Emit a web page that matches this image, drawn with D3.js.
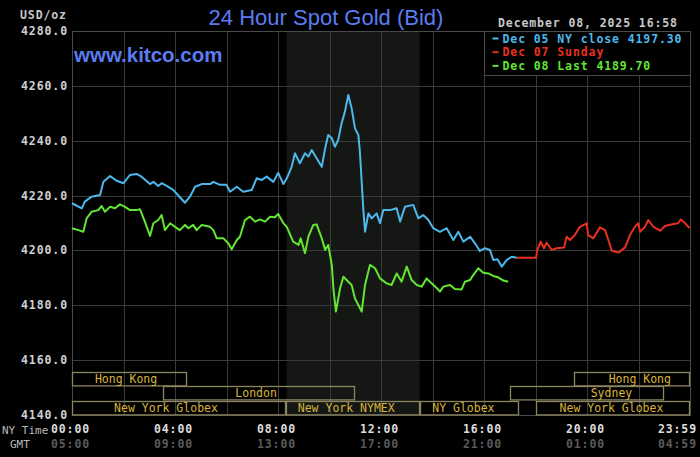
<!DOCTYPE html>
<html>
<head>
<meta charset="utf-8">
<script src="https://cdn.jsdelivr.net/npm/d3@7"></script>
<style>
    body { margin: 0; background: #000; }
    svg { display: block; }
    .mono { font-family: 'DejaVu Sans Mono', monospace; }
</style>
</head>
<body>
<div id="chart"></div>
<script>
// hours since NY midnight, bid price
var DEC05 = [
    [0,4217.2],[0.38,4215.3],[0.5,4217.8],[0.76,4219.6],[1.09,4220.2],[1.22,4225],[1.48,4227.1],
    [1.73,4225.4],[2.0,4224.5],[2.25,4227.5],[2.51,4227.9],[2.7,4226.9],[3.03,4224.2],[3.16,4225],
    [3.35,4223.5],[3.48,4224.5],[3.68,4223.5],[3.94,4222],[4.19,4219.4],[4.39,4217.4],[4.58,4219.6],
    [4.78,4223.2],[5.04,4224.2],[5.36,4224.2],[5.49,4225],[5.75,4223.9],[6.0,4223.9],[6.14,4221.4],
    [6.4,4223.2],[6.65,4221.4],[6.98,4222],[7.17,4226.3],[7.37,4225.7],[7.56,4226.9],[7.82,4225],
    [8.01,4228.3],[8.21,4224.2],[8.34,4226.3],[8.53,4230.5],[8.66,4235.4],[8.85,4231.8],[9.05,4235.4],
    [9.18,4234.2],[9.31,4236.6],[9.5,4233.6],[9.7,4230.5],[9.83,4237.2],[9.95,4242.1],[10.09,4240.9],
    [10.21,4237.8],[10.34,4240.3],[10.47,4246.4],[10.6,4250.6],[10.73,4256.7],[10.86,4251.8],
    [10.99,4244.5],[11.12,4242.1],[11.18,4236],[11.25,4225],[11.31,4215.4],[11.38,4206.8],
    [11.51,4213.5],[11.64,4211.7],[11.83,4213.5],[11.96,4209.9],[12.09,4214.7],[12.35,4214.7],
    [12.61,4215.4],[12.74,4210.5],[12.93,4215.9],[13.25,4216.6],[13.45,4211.7],[13.64,4212.9],
    [13.84,4211.1],[14.03,4208.1],[14.29,4206.8],[14.55,4208.1],[14.81,4203.8],[15.0,4206.8],
    [15.2,4203.2],[15.46,4205],[15.65,4202.6],[15.84,4199.8],[16.04,4200.8],[16.23,4200.2],
    [16.36,4196.5],[16.52,4196.8],[16.69,4194.1],[16.88,4196.5],[17.08,4197.7],[17.27,4197.3]
];

var DEC07 = [
    [17.27,4197.3],[18.02,4197.3],[18.07,4200.2],[18.2,4203.2],[18.33,4200.8],[18.43,4202.8],
    [18.63,4200.2],[18.82,4200.8],[19.11,4201.1],[19.21,4205],[19.34,4203.8],[19.53,4205.6],
    [19.7,4208.4],[19.98,4209.9],[20.05,4205.6],[20.24,4204.4],[20.5,4208.4],[20.7,4207.4],
    [20.83,4203.8],[20.96,4199.9],[21.22,4199.2],[21.48,4201.1],[21.67,4205.6],[21.86,4208.6],
    [21.99,4209.9],[22.06,4206.8],[22.25,4208.6],[22.38,4211.1],[22.58,4208.6],[22.84,4207.2],
    [23.03,4208.9],[23.35,4209.6],[23.54,4209.9],[23.64,4211.3],[23.81,4209.9],[23.98,4208.1]
];

var DEC08 = [
    [0,4208.1],[0.25,4207.4],[0.44,4206.8],[0.57,4211.7],[0.76,4214.1],[1.02,4214.7],[1.15,4216.2],
    [1.28,4214.1],[1.48,4215.9],[1.67,4215.4],[1.86,4216.8],[2.06,4215.9],[2.25,4214.7],[2.51,4214.7],
    [2.64,4215],[2.83,4210.5],[3.03,4205.3],[3.16,4209.9],[3.35,4211.1],[3.48,4212.9],[3.61,4207.4],
    [3.81,4209.9],[4.0,4208.6],[4.19,4207.4],[4.39,4209.3],[4.52,4208.1],[4.71,4209.3],[4.84,4207.4],
    [5.04,4209.3],[5.36,4208.6],[5.49,4207.4],[5.62,4204.4],[5.88,4204.4],[6.07,4202.6],[6.2,4200.4],
    [6.4,4203.8],[6.52,4205],[6.72,4211.1],[6.91,4212.3],[7.11,4210.5],[7.3,4211.3],[7.5,4210.5],
    [7.69,4212.3],[7.88,4212.1],[8.01,4213.3],[8.21,4209.9],[8.34,4208.6],[8.59,4203.2],[8.8,4202],
    [8.88,4204.4],[9.05,4199],[9.18,4205],[9.37,4209.3],[9.5,4209.5],[9.7,4204.4],[9.83,4200.2],
    [9.95,4202],[10.09,4194.7],[10.15,4186.2],[10.25,4177.7],[10.41,4186.2],[10.54,4190.4],
    [10.73,4188.6],[10.86,4187.4],[10.99,4182.5],[11.12,4180.1],[11.25,4177.7],[11.38,4187.4],
    [11.57,4194.7],[11.77,4193.5],[11.96,4189.8],[12.22,4188],[12.41,4187.4],[12.61,4191.6],
    [12.8,4188.6],[13.0,4194.1],[13.19,4189.2],[13.39,4187.4],[13.58,4186.8],[13.77,4189.8],
    [14.17,4186.2],[14.29,4185],[14.42,4186.8],[14.68,4187.4],[14.87,4185.9],[15.13,4185.8],
    [15.26,4188.6],[15.46,4189.2],[15.58,4191],[15.78,4193.5],[15.97,4191.9],[16.17,4191.6],
    [16.36,4190.7],[16.55,4190.2],[16.75,4189],[16.94,4188.6]
];

var SERIES = [
    { label: 'Dec 05 NY close 4197.30', color: '#4db8ec', data: DEC05 },
    { label: 'Dec 07 Sunday', color: '#e8301f', data: DEC07 },
    { label: 'Dec 08 Last 4189.70', color: '#62e632', data: DEC08 }
];

var Y_TICKS = [4140, 4160, 4180, 4200, 4220, 4240, 4260, 4280];
var X_GRID = [0, 2, 4, 6, 8, 10, 12, 14, 16, 18, 20, 22, 24];
var X_LABEL_HOURS = [0, 4, 8, 12, 16, 20, 24];
var NY_LABELS = ['00:00', '04:00', '08:00', '12:00', '16:00', '20:00', '23:59'];
var GMT_LABELS = ['05:00', '09:00', '13:00', '17:00', '21:00', '01:00', '04:59'];

var NYMEX_HOURS = [8 + 1/3, 13.5];

var SESSIONS = [
    { label: 'Hong Kong', row: 0, from: 0, to: 4.48, at: 2.1 },
    { label: 'Hong Kong', row: 0, from: 19.5, to: 24, at: 22.05 },
    { label: 'London', row: 1, from: 3.52, to: 11, at: 7.15 },
    { label: 'Sydney', row: 1, from: 17, to: 23, at: 20.95 },
    { label: 'New York Globex', row: 2, from: 0, to: 8.33, at: 3.65 },
    { label: 'New York NYMEX', row: 2, from: 8.33, to: 13.5, at: 10.65 },
    { label: 'NY Globex', row: 2, from: 13.5, to: 17.35, at: 15.2 },
    { label: 'New York Globex', row: 2, from: 18, to: 24, at: 20.95 }
];

var W = 700,
    H = 457,
    plotL = 72,
    plotR = 690,
    plotT = 31,
    plotB = 415,
    rowH = 14.4;

var x = d3.scaleLinear().domain([0, 24]).range([plotL, plotR]),
    y = d3.scaleLinear().domain([4140, 4280]).range([plotB, plotT]);

var svg = d3.select('#chart')
    .append('svg')
    .attr('width', W)
    .attr('height', H);

function drawBackground(svg) {
    svg.append('rect')
        .attr('width', W)
        .attr('height', H)
        .attr('fill', '#000');

    svg.append('rect')
        .attr('x', x(NYMEX_HOURS[0]))
        .attr('y', plotT)
        .attr('width', x(NYMEX_HOURS[1]) - x(NYMEX_HOURS[0]))
        .attr('height', plotB - plotT)
        .attr('fill', '#141714');
}

function drawGrid(svg) {
    svg.append('g')
        .selectAll('line')
        .data(X_GRID)
        .enter()
        .append('line')
        .attr('x1', function(d) { return Math.round(x(d)) + 0.5; })
        .attr('x2', function(d) { return Math.round(x(d)) + 0.5; })
        .attr('y1', plotT)
        .attr('y2', plotB)
        .attr('stroke', '#3a3a3a');

    svg.append('g')
        .selectAll('line')
        .data(Y_TICKS)
        .enter()
        .append('line')
        .attr('x1', plotL)
        .attr('x2', plotR)
        .attr('y1', function(d) { return Math.round(y(d)) + 0.5; })
        .attr('y2', function(d) { return Math.round(y(d)) + 0.5; })
        .attr('stroke', '#3a3a3a');

    svg.append('rect')
        .attr('x', plotL + 0.5)
        .attr('y', plotT + 0.5)
        .attr('width', plotR - plotL)
        .attr('height', plotB - plotT)
        .attr('fill', 'none')
        .attr('stroke', '#4a4a4a');
}

function drawSessions(svg) {
    var s = svg.selectAll('g.session')
        .data(SESSIONS)
        .enter()
        .append('g')
        .attr('class', 'session');

    s.append('rect')
        .attr('x', function(d) { return Math.round(x(d.from)) + 0.5; })
        .attr('y', function(d) { return Math.round(plotB - (3 - d.row) * rowH) + 0.5; })
        .attr('width', function(d) { return Math.round(x(d.to)) - Math.round(x(d.from)) - 1; })
        .attr('height', rowH - 1)
        .attr('fill', 'none')
        .attr('stroke', '#8c8660')
        .attr('stroke-width', 1.3);

    s.append('text')
        .attr('class', 'mono')
        .attr('x', function(d) { return x(d.at); })
        .attr('y', function(d) { return plotB - (2 - d.row) * rowH - 3.5; })
        .attr('text-anchor', 'middle')
        .attr('font-size', '11.5px')
        .attr('fill', '#d9b43a')
        .text(function(d) { return d.label; });
}

function drawSeries(svg) {
    var line = d3.line()
        .x(function(d) { return x(d[0]); })
        .y(function(d) { return y(d[1]); });

    svg.selectAll('path.series')
        .data(SERIES)
        .enter()
        .append('path')
        .attr('class', 'series')
        .attr('d', function(d) { return line(d.data); })
        .attr('fill', 'none')
        .attr('stroke', function(d) { return d.color; })
        .attr('stroke-width', 2)
        .attr('stroke-linejoin', 'round');
}

function drawLegend(svg) {
    var lx = Math.round(x(16)) + 0.5;

    svg.append('rect')
        .attr('x', lx)
        .attr('y', plotT + 0.5)
        .attr('width', plotR - lx + 0.5)
        .attr('height', 44)
        .attr('fill', '#000')
        .attr('stroke', '#4a4a4a');

    var items = svg.selectAll('g.legend')
        .data(SERIES)
        .enter()
        .append('g')
        .attr('class', 'legend');

    items.append('line')
        .attr('x1', lx + 8)
        .attr('x2', lx + 14)
        .attr('y1', function(d, i) { return plotT + 7.5 + i * 13.7; })
        .attr('y2', function(d, i) { return plotT + 7.5 + i * 13.7; })
        .attr('stroke', function(d) { return d.color; })
        .attr('stroke-width', 2);

    items.append('text')
        .attr('class', 'mono')
        .attr('x', lx + 18)
        .attr('y', function(d, i) { return plotT + 11.5 + i * 13.7; })
        .attr('font-size', '11.5px')
        .attr('font-weight', 'bold')
        .attr('letter-spacing', '0.9px')
        .attr('fill', function(d) { return d.color; })
        .text(function(d) { return d.label; });
}

function drawLabels(svg) {
    svg.append('text')
        .attr('x', 326)
        .attr('y', 25)
        .attr('text-anchor', 'middle')
        .attr('font-family', 'Liberation Sans, Arial, sans-serif')
        .attr('font-size', '22px')
        .attr('fill', '#5b7cf0')
        .text('24 Hour Spot Gold (Bid)');

    svg.append('text')
        .attr('x', 74)
        .attr('y', 62)
        .attr('font-family', 'Liberation Sans, Arial, sans-serif')
        .attr('font-size', '20.5px')
        .attr('font-weight', 'bold')
        .attr('fill', '#5b7cf0')
        .text('www.kitco.com');

    svg.append('text')
        .attr('class', 'mono')
        .attr('x', 498)
        .attr('y', 27)
        .attr('font-size', '11.5px')
        .attr('font-weight', 'bold')
        .attr('letter-spacing', '0.9px')
        .attr('fill', '#c8c8c8')
        .text('December 08, 2025 16:58');

    svg.append('text')
        .attr('class', 'mono')
        .attr('x', 20)
        .attr('y', 19)
        .attr('font-size', '11.5px')
        .attr('font-weight', 'bold')
        .attr('letter-spacing', '0.9px')
        .attr('fill', '#c8c8c8')
        .text('USD/oz');

    svg.append('g')
        .selectAll('text')
        .data(Y_TICKS)
        .enter()
        .append('text')
        .attr('class', 'mono')
        .attr('x', 68)
        .attr('y', function(d) { return y(d) + 4; })
        .attr('text-anchor', 'end')
        .attr('font-size', '11.5px')
        .attr('font-weight', 'bold')
        .attr('letter-spacing', '0.9px')
        .attr('fill', '#d0d0d0')
        .text(function(d) { return d3.format('.1f')(d); });

    svg.append('text')
        .attr('class', 'mono')
        .attr('x', 2)
        .attr('y', 434)
        .attr('font-size', '11px')
        .attr('fill', '#b8b8b8')
        .text('NY Time');

    svg.append('text')
        .attr('class', 'mono')
        .attr('x', 10)
        .attr('y', 448)
        .attr('font-size', '11px')
        .attr('fill', '#b8b8b8')
        .text('GMT');

    function labelX(d, i) {
        return i === X_LABEL_HOURS.length - 1 ? 697 : x(d) - 1.5;
    }
    function labelAnchor(d, i) {
        return i === X_LABEL_HOURS.length - 1 ? 'end' : 'middle';
    }

    svg.append('g')
        .selectAll('text')
        .data(X_LABEL_HOURS)
        .enter()
        .append('text')
        .attr('class', 'mono')
        .attr('x', labelX)
        .attr('y', 433)
        .attr('text-anchor', labelAnchor)
        .attr('font-size', '11.5px')
        .attr('font-weight', 'bold')
        .attr('letter-spacing', '0.9px')
        .attr('fill', '#dcdcdc')
        .text(function(d, i) { return NY_LABELS[i]; });

    svg.append('g')
        .selectAll('text')
        .data(X_LABEL_HOURS)
        .enter()
        .append('text')
        .attr('class', 'mono')
        .attr('x', labelX)
        .attr('y', 448)
        .attr('text-anchor', labelAnchor)
        .attr('font-size', '11.5px')
        .attr('font-weight', 'bold')
        .attr('letter-spacing', '0.9px')
        .attr('fill', '#5a5a5a')
        .text(function(d, i) { return GMT_LABELS[i]; });
}

drawBackground(svg);
drawGrid(svg);
drawSessions(svg);
drawSeries(svg);
drawLegend(svg);
drawLabels(svg);
</script>
</body>
</html>
